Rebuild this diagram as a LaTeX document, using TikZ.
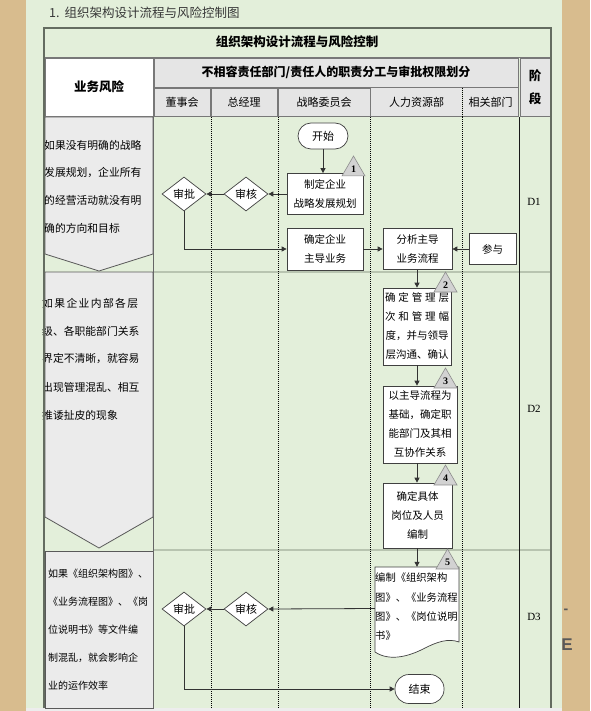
\documentclass[tikz,border=0pt]{standalone}
\usepackage{fontspec}
\setmainfont{Noto Sans CJK SC}
\newfontfamily\sern{Liberation Serif}
\newfontfamily\sansf{Liberation Sans}
\usetikzlibrary{shapes.geometric,arrows.meta}
\definecolor{tanbg}{RGB}{216,188,142}
\definecolor{pagegreen}{RGB}{227,239,218}
\definecolor{hdrgray}{RGB}{229,229,229}
\definecolor{hdrline}{RGB}{120,120,120}
\definecolor{riskgray}{RGB}{235,235,235}
\definecolor{rowline}{RGB}{184,196,176}
\definecolor{bordergray}{RGB}{100,108,96}
\definecolor{trigray}{RGB}{210,210,210}
\definecolor{titlegray}{RGB}{55,55,55}
\begin{document}
\begin{tikzpicture}[x=1pt,y=-1pt,
 hc/.style={draw=hdrline,fill=hdrgray,inner sep=0pt,line width=0.7pt},
 hfont/.style={font=\fontsize{11}{13}\selectfont},
 bfont/.style={font=\fontsize{12.5}{14}\selectfont\bfseries},
 box/.style={draw=black!75,fill=white,inner sep=0pt,line width=0.7pt,align=center,font=\fontsize{10.5}{19}\selectfont},
 dia/.style={diamond,aspect=1.3,draw=black!75,fill=white,inner sep=0pt,line width=0.7pt,minimum width=44pt,minimum height=34pt,font=\fontsize{11}{13}\selectfont},
 term/.style={draw=black!75,fill=white,inner sep=0pt,line width=0.7pt,font=\fontsize{11}{13}\selectfont},
 tri/.style={regular polygon,regular polygon sides=3,minimum size=26.6pt,inner sep=0pt,draw=black!45,fill=trigray,line width=0.6pt,font=\sern\bfseries\fontsize{10}{12}\selectfont},
 arr/.style={draw=black!80,line width=0.8pt,-{Triangle[length=5pt,width=5pt]}},
 lane/.style={line width=1pt,dash pattern=on 1pt off 1pt},
 risk/.style={anchor=west,inner sep=0pt,font=\fontsize{10.8}{13}\selectfont},
 riskshape/.style={draw=black!65,fill=riskgray,line width=0.8pt},
 stage/.style={font=\sern\fontsize{11}{13}\selectfont}
]
\useasboundingbox (0,0) rectangle (590,711);
% background
\fill[tanbg] (0,0) rectangle (590,711);
\fill[pagegreen] (26,0) rectangle (562,711);
\fill[black!7] (26,708) rectangle (562,711);
\node[font=\sansf\bfseries\fontsize{14}{16}\selectfont,text=black!65,inner sep=0pt] (bgdash) at (566,611) {-};
\node[font=\sansf\bfseries\fontsize{17}{18}\selectfont,text=black!65,inner sep=0pt] (bgE) at (567,645) {E};
% title
\node[anchor=west,inner sep=0pt,text=titlegray,font=\fontsize{12.5}{14}\selectfont] (title) at (49,13) {1.\hspace{5pt}组织架构设计流程与风险控制图};
% table title row
\draw[hdrline,line width=0.8pt] (44,57) -- (551,57);
\node[bfont,inner sep=0pt] (ttl) at (297,42) {组织架构设计流程与风险控制};
% header cells
\node[hc,fill=white,minimum width=108pt,minimum height=58pt,bfont] (hrisk) at (99,87) {业务风险};
\node[hc,minimum width=364pt,minimum height=29pt,font=\fontsize{12}{14}\selectfont\bfseries] (hsep) at (336,72.5) {不相容责任部门/责任人的职责分工与审批权限划分};
\node[hc,minimum width=56pt,minimum height=28pt,hfont] (hbd) at (182,102) {董事会};
\node[hc,minimum width=66pt,minimum height=28pt,hfont] (hgm) at (244,102) {总经理};
\node[hc,minimum width=92pt,minimum height=28pt,hfont] (hsc) at (324,102) {战略委员会};
\node[hc,draw=none,minimum width=91pt,minimum height=28pt,hfont] (hhr) at (416.5,102) {人力资源部};
\node[hc,draw=none,minimum width=55pt,minimum height=28pt,hfont] (hrel) at (490.5,102) {相关部门};
\draw[hdrline,line width=0.7pt] (hhr.north west) rectangle (hrel.south east);
\draw[lane,line width=0.8pt] (hhr.north east) -- (hhr.south east);
\node[hc,minimum width=30pt,minimum height=58pt,bfont,align=center] (hstage) at (535,87) {阶\\[9pt]段};
% body row lines
\draw[rowline,line width=1.2pt] (153,272) -- (551,272);
\draw[rowline,line width=1.2pt] (153,550) -- (551,550);
% lanes
\draw[lane] (211,117) -- (211,708);
\draw[lane] (278,117) -- (278,708);
\draw[lane] (370.5,117) -- (370.5,708);
\draw[lane] (462.5,117) -- (462.5,708);
\draw[black!90,line width=0.8pt] (519.5,117) -- (519.5,708);
% risk shapes
\draw[riskshape] (45,117) -- (153,117) -- (153,254) -- (99,271) -- (45,254) -- cycle;
\draw[riskshape] (45,272) -- (153,272) -- (153,517) -- (99,548) -- (45,517) -- cycle;
\draw[riskshape] (45,551) -- (153,551) -- (153,708) -- (45,708) -- cycle;
\foreach \t [count=\i] in {如果没有明确的战略,发展规划，企业所有,的经营活动就没有明,确的方向和目标}
  {\node[risk] (ra\i) at (44,{145+(\i-1)*27.7}) {\t};}
\node[risk] (rb1) at (42,303) {\makebox[96pt][s]{如\hfill 果\hfill 企\hfill 业\hfill 内\hfill 部\hfill 各\hfill 层}};
\foreach \t [count=\i from 2] in {级、各职能部门关系,界定不清晰，就容易,出现管理混乱、相互,推诿扯皮的现象}
  {\node[risk] (rb\i) at (42,{303+(\i-1)*28}) {\t};}
\foreach \t [count=\i] in {如果《组织架构图》、,《业务流程图》、《岗,位说明书》等文件编,制混乱，就会影响企,业的运作效率}
  {\node[risk,font=\fontsize{10}{12}\selectfont] (rc\i) at (48,{574+(\i-1)*27.8}) {\t};}
% stage labels
\node[stage] (d1) at (534,202) {D1};
\node[stage] (d2) at (534,409) {D2};
\node[stage] (d3) at (534,617) {D3};
% flow nodes
\node[term,rounded corners=13pt,minimum width=50pt,minimum height=26pt] (st) at (323,136) {开始};
\node[box,minimum width=76pt,minimum height=41pt] (b1) at (325,194) {制定企业\\战略发展规划};
\node[box,minimum width=76pt,minimum height=42pt] (b2) at (325,249) {确定企业\\主导业务};
\node[box,minimum width=69pt,minimum height=41pt] (b3) at (417.5,249) {分析主导\\业务流程};
\node[box,minimum width=47pt,minimum height=31pt] (cy) at (492.5,249) {参与};
\node[dia] (sh1) at (246,194) {审核};
\node[dia] (sp1) at (184,194) {审批};
\node[box,minimum width=68pt,minimum height=77pt] (b4) at (417,326.5)
  {\makebox[64pt][s]{确\hfill 定\hfill 管\hfill 理\hfill 层}\\\makebox[64pt][s]{次\hfill 和\hfill 管\hfill 理\hfill 幅}\\度，并与领导\\层沟通、确认};
\node[box,minimum width=74pt,minimum height=77pt] (b5) at (420,424.5) {以主导流程为\\基础，确定职\\能部门及其相\\互协作关系};
\node[box,minimum width=69pt,minimum height=65pt] (b6) at (417.5,515.5) {确定具体\\岗位及人员\\编制};
\node[inner sep=0pt,minimum width=84pt,minimum height=83pt] (doc) at (417,608.5) {};
\draw[draw=black!75,fill=white,line width=0.7pt] (375,567) -- (459,567) -- (459,642)
  .. controls (448,638) and (437,642) .. (425,648)
  .. controls (410,656) and (390,662) .. (375,652) -- cycle;
\foreach \t [count=\i] in {编制《组织架构,图》、《业务流程,图》、《岗位说明,书》}
  {\node[anchor=west,inner sep=0pt,font=\fontsize{10.3}{12}\selectfont] (dt\i) at (375,{578+(\i-1)*19.2}) {\t};}
\node[dia] (sh2) at (246,609) {审核};
\node[dia] (sp2) at (184,609) {审批};
\node[term,rounded corners=14pt,minimum width=49pt,minimum height=29pt] (en) at (419.5,689) {结束};
% number triangles
\node[tri] (t1) at (353.5,169.3) {1};
\node[tri] (t2) at (445.5,285.3) {2};
\node[tri] (t3) at (445.5,381.3) {3};
\node[tri] (t4) at (445.5,478.3) {4};
\node[tri] (t5) at (447.5,562.3) {5};
% connectors
\draw[arr] (st.south) -- (st.south |- b1.north);
\draw[arr] (b1.west) -- (sh1.east);
\draw[arr] (sh1.west) -- (sp1.east);
\draw[arr] (sp1.south) |- (b2.west);
\draw[arr] (b2.east) -- (b3.west);
\draw[arr] (cy.west) -- (b3.east);
\draw[arr] (b4.south |- b3.south) -- (b4.north);
\draw[arr] (b4.south) -- (b4.south |- b5.north);
\draw[arr] (b4.south |- b5.south) -- (b4.south |- b6.north);
\draw[arr] (b4.south |- b6.south) -- (b4.south |- doc.north);
\draw[arr] (doc.west) -- (sh2.east);
\draw[arr] (sh2.west) -- (sp2.east);
\draw[arr] (sp2.south) |- (en.west);
% table borders
\draw[bordergray,line width=1.8pt] (44,708) -- (44,28) -- (551,28) -- (551,708);
\draw[black!60,line width=0.8pt] (153.5,117) -- (153.5,708);
\end{tikzpicture}
\end{document}
